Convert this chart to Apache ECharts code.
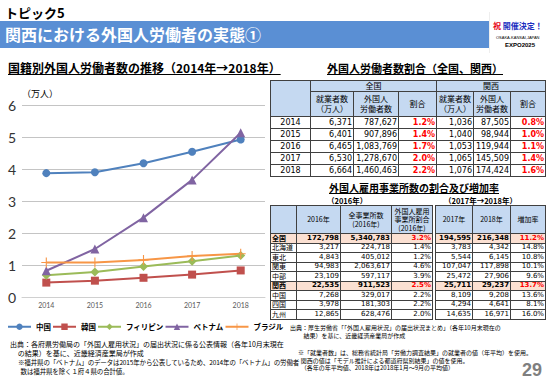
<!DOCTYPE html>
<html><head><meta charset="utf-8">
<script src="https://cdn.jsdelivr.net/npm/echarts@6/dist/echarts.min.js"></script>
<style>
body{margin:0;width:550px;height:381px;overflow:hidden;background:#fff;font-family:"Noto Sans CJK JP",sans-serif;position:relative}
#chart{position:absolute;left:0;top:0;width:550px;height:381px}
.abs{position:absolute;white-space:nowrap;color:#000}
table{border-collapse:collapse;table-layout:fixed;position:absolute;background:#fff;border:1px solid #000}
td{border:1px solid #404040;padding:0 1px;overflow:hidden;white-space:nowrap;line-height:1;color:#000}
.h{background:#c5d9f1;text-align:center;font-family:"Noto Sans CJK JP";}
.n{text-align:right;font-family:"DejaVu Sans";}
.r{color:#ff0000;font-weight:bold}
.pk td{background:#fbe0d2;font-weight:bold}
</style></head>
<body>
<div id="chart"></div>

<div class="abs" style="left:5px;top:3px;font-size:13px;font-weight:bold;">トピック5</div>
<div class="abs" style="left:0;top:21px;width:489px;height:27px;background:#5a8fd4;"></div>
<div class="abs" style="left:5px;top:21px;line-height:27px;font-size:16px;font-weight:bold;color:#fff;">関西における外国人労働者の実態①</div>
<div class="abs" style="left:489px;top:12px;width:61px;height:41px;background:#fff;border-left:1px solid #eee;"></div>
<div class="abs" style="left:493px;top:20px;font-size:8px;font-weight:bold;"><span style="color:#e60012">祝</span> <span style="color:#1d2fbf">開催決定！</span></div>
<div class="abs" style="left:496px;top:35px;font-size:4px;font-family:'Liberation Sans';">OSAKA-KANSAI,JAPAN</div>
<div class="abs" style="left:505px;top:42px;font-size:6px;font-weight:bold;font-family:'Liberation Sans';">EXPO2025</div>

<div class="abs" style="left:8px;top:59px;font-size:12px;font-weight:bold;text-decoration:underline;">国籍別外国人労働者数の推移（2014年→2018年）</div>
<div class="abs" style="left:22px;top:87px;font-size:9px;">（万人）</div>

<div class="abs" style="left:327px;top:60px;font-size:11px;font-weight:bold;text-decoration:underline;">外国人労働者数割合（全国、関西）</div>
<div class="abs" style="left:329px;top:180px;font-size:10px;font-weight:bold;text-decoration:underline;">外国人雇用事業所数の割合及び増加率</div>
<div class="abs" style="left:327px;top:195px;font-size:7.5px;font-weight:bold;">（2016年）</div>
<div class="abs" style="left:444px;top:195px;font-size:7.5px;font-weight:bold;">（2017年→2018年）</div>

<div id="t1"></div><div id="t2"></div>

<div class="abs" style="left:10px;top:340px;font-size:7px;line-height:9px;">出典：各府県労働局の「外国人雇用状況」の届出状況に係る公表情報（各年10月末現在<br>&nbsp;&nbsp;&nbsp;&nbsp;&nbsp;の結果）を基に、近畿経済産業局が作成</div>
<div class="abs" style="left:18px;top:358px;font-size:6.5px;line-height:9px;letter-spacing:-0.15px;">※福井県の「ベトナム」のデータは2015年から公表しているため、2014年の「ベトナム」の労働者<br>&nbsp;&nbsp;数は福井県を除く１府４県の合計値。</div>
<div class="abs" style="left:290px;top:324px;font-size:6px;line-height:7.5px;">出典：厚生労働省「「外国人雇用状況」の届出状況まとめ」（各年10月末現在の<br>&nbsp;&nbsp;&nbsp;&nbsp;&nbsp;&nbsp;&nbsp;&nbsp;&nbsp;&nbsp;結果）を基に、近畿経済産業局が作成</div>
<div class="abs" style="left:298px;top:349px;font-size:6px;line-height:7.5px;">※「就業者数」は、総務省統計局「労働力調査結果」の就業者の値（年平均）を使用。<br>&nbsp;&nbsp;関西の値は「モデル推計による都道府県別結果」の値を使用。<br>&nbsp;&nbsp;（各年の年平均値、2018年は2018年1月～9月の平均値）</div>
<div class="abs" style="left:522px;top:360px;font-size:18px;font-weight:bold;color:#7f7f7f;font-family:'Liberation Sans';">29</div>

<script>
// ---- line chart data ----
var years = ['2014', '2015', '2016', '2017', '2018'];
var seriesNames = ['中国', '韓国', 'フィリピン', 'ベトナム', 'ブラジル'];
var china = [3.87, 3.90, 4.18, 4.54, 4.92];
var korea = [0.45, 0.51, 0.60, 0.70, 0.83];
var philippines = [0.68, 0.78, 0.95, 1.12, 1.30];
var vietnam = [0.82, 1.50, 2.48, 3.66, 5.13];
var brazil = [1.08, 1.08, 1.16, 1.28, 1.35];
var yTicks = [0, 1, 2, 3, 4, 5, 6];

// ---- table 1 data ----
var t1Years = ['2014', '2015', '2016', '2017', '2018'];
var natEmp = ['6,371', '6,401', '6,465', '6,530', '6,664'];
var natForeign = ['787,627', '907,896', '1,083,769', '1,278,670', '1,460,463'];
var natRatio = ['1.2%', '1.4%', '1.7%', '2.0%', '2.2%'];
var kanEmp = ['1,036', '1,040', '1,053', '1,065', '1,076'];
var kanForeign = ['87,505', '98,944', '119,944', '145,509', '174,424'];
var kanRatio = ['0.8%', '1.0%', '1.1%', '1.4%', '1.6%'];

// ---- table 2 data ----
var regions = ['全国', '北海道', '東北', '関東', '中部', '関西', '中国', '四国', '九州'];
var est2016 = ['172,798', '3,217', '4,843', '94,983', '23,109', '22,535', '7,268', '3,978', '12,865'];
var allEst2016 = ['5,340,783', '224,718', '405,012', '2,063,617', '597,117', '911,523', '329,017', '181,303', '628,476'];
var estRatio2016 = ['3.2%', '1.4%', '1.2%', '4.6%', '3.9%', '2.5%', '2.2%', '2.2%', '2.0%'];
var est2017 = ['194,595', '3,783', '5,544', '107,047', '25,472', '25,711', '8,109', '4,294', '14,635'];
var est2018 = ['216,348', '4,342', '6,145', '117,898', '27,906', '29,237', '9,208', '4,641', '16,971'];
var growth = ['11.2%', '14.8%', '10.8%', '10.1%', '9.6%', '13.7%', '13.6%', '8.1%', '16.0%'];
var highlight = ['全国', '関西'];

// build table 1
(function () {
  var widths = [40, 43, 45, 38, 37, 37, 35];
  var h = '<table style="left:270px;top:80px;width:275px;font-size:8px;"><colgroup>';
  widths.forEach(function (w) { h += '<col style="width:' + w + 'px">'; });
  h += '</colgroup>';
  h += '<tr style="height:11px"><td class="h" rowspan="2"></td><td class="h" colspan="3">全国</td><td class="h" colspan="3">関西</td></tr>';
  var sub = '<td class="h" style="line-height:10px">就業者数<br>（万人）</td><td class="h" style="line-height:10px">外国人<br>労働者数</td><td class="h">割合</td>';
  h += '<tr style="height:25px">' + sub + sub + '</tr>';
  for (var i = 0; i < t1Years.length; i++) {
    h += '<tr style="height:12px"><td style="text-align:center;font-family:\'DejaVu Sans\'">' + t1Years[i] + '</td>' +
      '<td class="n">' + natEmp[i] + '</td><td class="n">' + natForeign[i] + '</td><td class="n r">' + natRatio[i] + '</td>' +
      '<td class="n">' + kanEmp[i] + '</td><td class="n">' + kanForeign[i] + '</td><td class="n r">' + kanRatio[i] + '</td></tr>';
  }
  h += '</table>';
  document.getElementById('t1').innerHTML = h;
})();

// build table 2
(function () {
  var wl = [26, 44, 51, 41], wr = [37, 38, 35];
  var a = '<table style="left:270px;top:205px;width:162px;font-size:7px;"><colgroup>';
  wl.forEach(function (w) { a += '<col style="width:' + w + 'px">'; });
  a += '</colgroup><tr style="height:28px"><td class="h"></td><td class="h">2016年</td>' +
    '<td class="h" style="line-height:9px">全事業所数<br>(2016年)</td><td class="h" style="line-height:8.5px">外国人雇用<br>事業所割合<br>(2016年)</td></tr>';
  var b = '<table style="left:435px;top:205px;width:110px;font-size:7px;"><colgroup>';
  wr.forEach(function (w) { b += '<col style="width:' + w + 'px">'; });
  b += '</colgroup><tr style="height:28px"><td class="h">2017年</td><td class="h">2018年</td><td class="h">増加率</td></tr>';
  for (var i = 0; i < regions.length; i++) {
    var hl = highlight.indexOf(regions[i]) >= 0;
    var tr = '<tr style="height:9.5px"' + (hl ? ' class="pk"' : '') + '>';
    var rc = hl ? ' r' : '';
    a += tr + '<td style="font-size:7px">' + regions[i] + '</td><td class="n">' + est2016[i] + '</td><td class="n">' + allEst2016[i] +
      '</td><td class="n' + rc + '">' + estRatio2016[i] + '</td></tr>';
    b += tr + '<td class="n">' + est2017[i] + '</td><td class="n">' + est2018[i] + '</td><td class="n' + rc + '">' + growth[i] + '</td></tr>';
  }
  a += '</table>'; b += '</table>';
  document.getElementById('t2').innerHTML = a + b;
})();

// chart
var chart = echarts.init(document.getElementById('chart'), null, { renderer: 'svg' });
var colors = ['#4f81bd', '#c0504d', '#9bbb59', '#8064a2', '#f79646'];
var symbols = ['circle', 'rect', 'diamond', 'triangle', 'path://M4 0h1v9h-1zM0 4h9v1h-9z'];
var sizes = [8, 8, 9, 9, 10];
var datas = [china, korea, philippines, vietnam, brazil];
chart.setOption({
  animation: false,
  color: colors,
  grid: { left: 22, right: 285, top: 105, bottom: 84 },
  legend: {
    left: 2, top: 318, itemWidth: 23, itemHeight: 8, itemGap: 1,
    textStyle: { fontSize: 7.5, fontWeight: 'bold', color: '#000', fontFamily: 'Noto Sans CJK JP' },
    data: seriesNames
  },
  xAxis: {
    type: 'category', data: years, boundaryGap: true,
    axisLine: { show: true, lineStyle: { color: '#d0d0d0' } },
    axisTick: { show: false },
    axisLabel: { fontSize: 7, color: '#595959', margin: 4, fontFamily: 'Lato' }
  },
  yAxis: {
    type: 'value', min: yTicks[0], max: yTicks[yTicks.length - 1], interval: 1,
    axisLine: { show: false }, axisTick: { show: false },
    axisLabel: { fontSize: 14, color: '#333', margin: 6, fontFamily: 'Lato' },
    splitLine: { lineStyle: { color: '#c4c4c4', width: 1 } }
  },
  series: seriesNames.map(function (n, i) {
    return {
      name: n, type: 'line', data: datas[i],
      symbol: symbols[i], symbolSize: sizes[i], showSymbol: true,
      lineStyle: { width: 2, color: colors[i] },
      itemStyle: { color: colors[i] }
    };
  })
});
</script>
</body></html>
